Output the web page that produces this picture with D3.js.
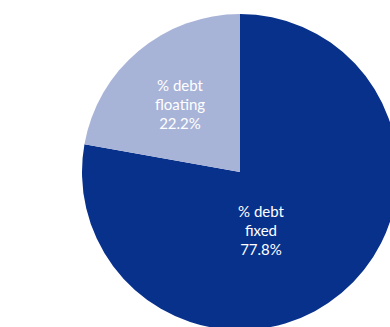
<!DOCTYPE html>
<html><head><meta charset="utf-8">
<script src="https://cdn.jsdelivr.net/npm/d3@7"></script>
<style>html,body{margin:0;padding:0;background:#fff;overflow:hidden}</style>
</head><body>
<svg id="c" width="390" height="327"></svg>
<script>
const categories = ["% debt fixed", "% debt floating"];
const labelLines = [["% debt", "fixed"], ["% debt", "floating"]];
const values = [77.8, 22.2];
const colors = ["#08318C", "#A8B3D8"];

const svg = d3.select("#c");
const cx = 240, cy = 172, r = 158;
const g = svg.append("g").attr("transform", `translate(${cx},${cy})`);
const pie = d3.pie().sort(null).value(d => d)(values);
const arc = d3.arc().innerRadius(0).outerRadius(r);
g.selectAll("path").data(pie).join("path")
  .attr("d", arc).attr("fill", (d, i) => colors[i]);

// label placement (Excel-like best fit), first-line baseline offsets from center
const labelPos = [[21, 45], [-60, -81]];
pie.forEach((d, i) => {
  const t = g.append("text")
    .attr("text-anchor", "middle")
    .attr("fill", "#fff")
    .style("font-family", "Lato, 'Open Sans', sans-serif")
    .style("font-size", "15px")
    .attr("transform", `translate(${labelPos[i][0]},${labelPos[i][1]})`);
  const lines = labelLines[i].concat([values[i].toFixed(1) + "%"]);
  lines.forEach((l, j) => {
    t.append("tspan").attr("x", 0).attr("y", j * 19).text(l);
  });
});
</script>
</body></html>
